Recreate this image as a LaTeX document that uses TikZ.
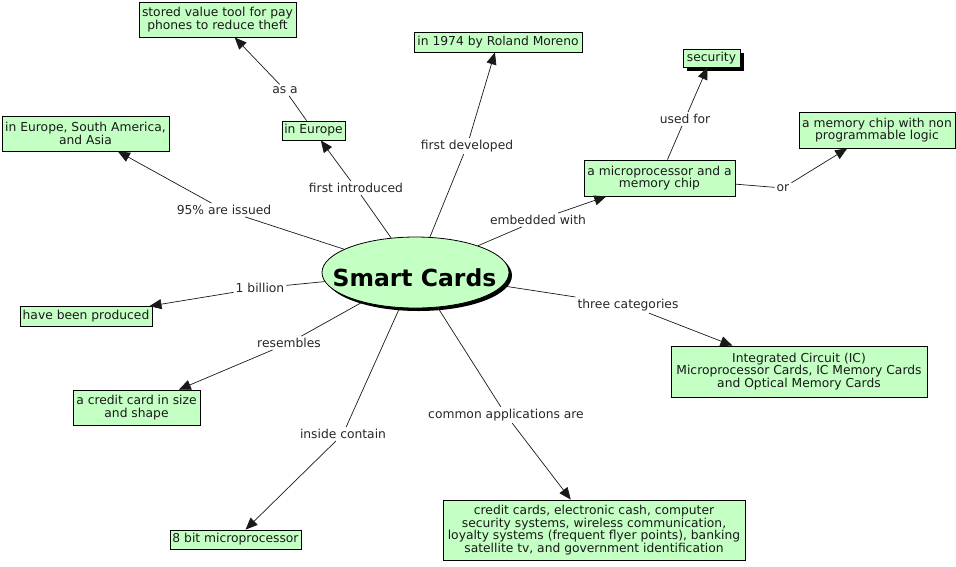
\documentclass[tikz,border=0pt]{standalone}
\usepackage{fontspec}
\setmainfont{DejaVu Sans}
\usetikzlibrary{arrows.meta,shadows,shapes.geometric}
\definecolor{cgreen}{RGB}{196,255,196}
\begin{document}
\begin{tikzpicture}[x=1pt,y=-1pt,
  txt/.style={font=\fontsize{12.3}{12.8}\selectfont},
  concept/.style={txt, draw=black, fill=cgreen, line width=0.8pt, inner xsep=1pt, inner ysep=1pt, align=center, text=black!90},
  lab/.style={txt, inner xsep=2pt, inner ysep=2pt, text=black!85},
  link/.style={draw=black!90, line width=0.7pt},
  arr/.style={link, -{Triangle[length=12pt,width=10pt]}},
  shadowed/.style={drop shadow={shadow xshift=3.5pt, shadow yshift=-4pt, fill=black, opacity=1}}
]
\useasboundingbox (0,0) rectangle (956,566);

% central concept
\node[ellipse, draw=black, line width=0.8pt, fill=cgreen, minimum width=187pt, minimum height=71pt, inner sep=0pt,
      drop shadow={shadow xshift=3pt, shadow yshift=-3pt, fill=black, opacity=1}] (sc) at (415.5,272.5) {};
\node[font=\fontsize{23.5}{24}\selectfont\bfseries, inner sep=0pt] (sctext) at (414.5,277.5) {Smart Cards};

% concepts
\node[concept, minimum width=157pt, minimum height=35pt] (stored) at (217.5,19.5) {stored value tool for pay\\phones to reduce theft};
\node[concept, minimum width=168pt, minimum height=20pt] (moreno) at (498,42) {in 1974 by Roland Moreno};
\node[concept, minimum width=57pt, minimum height=18pt, shadowed] (security) at (711.5,58) {security};
\node[concept, minimum width=156pt, minimum height=36pt] (memchip) at (877,130) {a memory chip with non\\programmable logic};
\node[concept, minimum width=167pt, minimum height=35pt] (eusa) at (85.5,133.5) {in Europe, South America,\\and Asia};
\node[concept, minimum width=63pt, minimum height=19pt] (ineu) at (313.5,130.5) {in Europe};
\node[concept, minimum width=151pt, minimum height=36pt] (micro) at (659.5,178) {a microprocessor and a\\memory chip};
\node[concept, minimum width=132pt, minimum height=20pt] (produced) at (86,316.5) {have been produced};
\node[concept, minimum width=127pt, minimum height=35pt] (ccard) at (136.5,407.5) {a credit card in size\\and shape};
\node[concept, minimum width=256pt, minimum height=51pt] (ic) at (799,371.5) {Integrated Circuit (IC)\\Microprocessor Cards, IC Memory Cards\\and Optical Memory Cards};
\node[concept, minimum width=131pt, minimum height=19pt] (bit8) at (235.5,539.5) {8 bit microprocessor};
\node[concept, minimum width=302pt, minimum height=60pt] (apps) at (594,530) {credit cards, electronic cash, computer\\security systems, wireless communication,\\loyalty systems (frequent flyer points), banking\\satellite tv, and government identification};

% link labels
\node[lab] (lintro) at (356,188) {first introduced};
\node[lab] (lasa) at (285,90) {as a};
\node[lab] (ldev) at (467,146) {first developed};
\node[lab] (lemb) at (538,220) {embedded with};
\node[lab] (lused) at (685,119) {used for};
\node[lab] (lor) at (783,188) {or};
\node[lab] (liss) at (224,210) {95\% are issued};
\node[lab] (lbil) at (260,288) {1 billion};
\node[lab] (lres) at (289,343) {resembles};
\node[lab] (lcat) at (628,305) {three categories};
\node[lab] (lapp) at (506,415) {common applications are};
\node[lab] (lins) at (343,434) {inside contain};

% connectors
\draw[link] (sc) -- (lintro); \draw[arr] (lintro) -- (ineu);
\draw[link] (ineu) -- (lasa); \draw[arr] (lasa) -- (stored);
\draw[link] (sc) -- (ldev); \draw[arr] (ldev) -- (moreno);
\draw[link] (sc) -- (lemb); \draw[arr] (lemb) -- (micro);
\draw[link] (micro) -- (lused); \draw[arr] (lused) -- (security);
\draw[link] (micro) -- (lor); \draw[arr] (lor) -- (memchip);
\draw[link] (sc) -- (liss); \draw[arr] (liss) -- (eusa);
\draw[link] (sc) -- (lbil); \draw[arr] (lbil) -- (produced);
\draw[link] (sc) -- (lres); \draw[arr] (lres) -- (ccard);
\draw[link] (sc) -- (lcat); \draw[arr] (lcat) -- (ic);
\draw[link] (sc) -- (lapp); \draw[arr] (lapp) -- (apps);
\draw[link] (sc) -- (lins); \draw[arr] (lins) -- (bit8);
\end{tikzpicture}
\end{document}
